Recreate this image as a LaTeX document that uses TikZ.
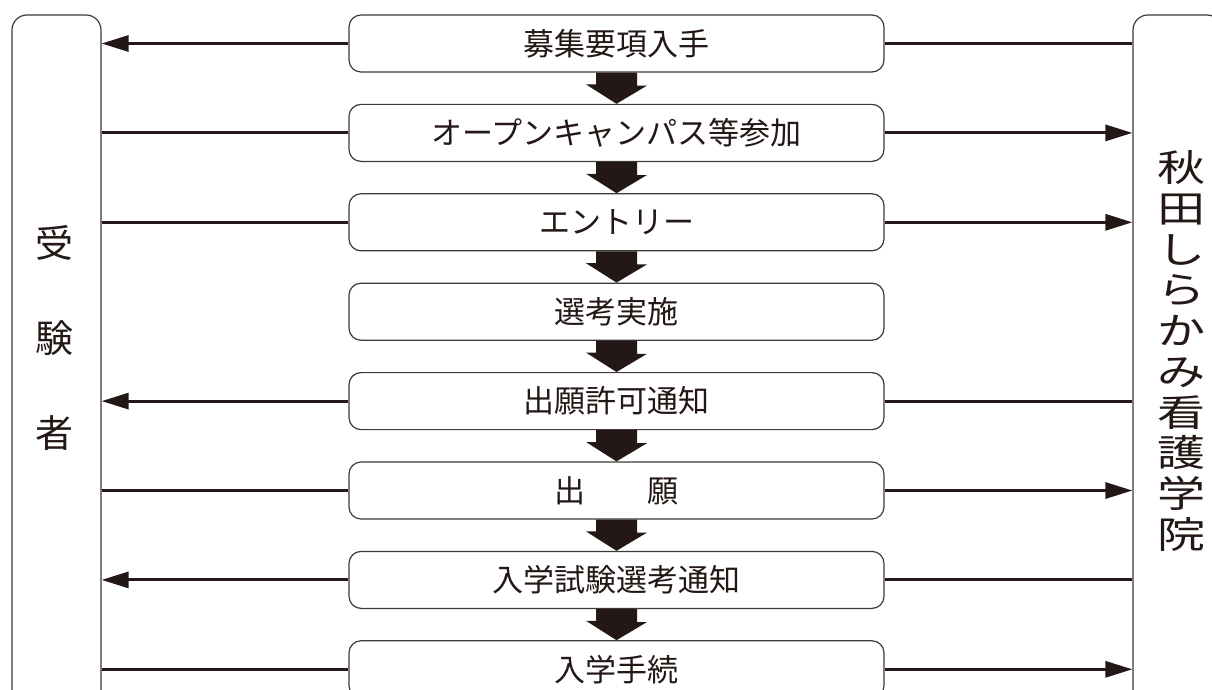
\documentclass[tikz,border=0pt]{standalone}
\usepackage{fontspec}
\setmainfont{Noto Sans CJK JP}
\newfontfamily\widecjk[FakeStretch=1.3]{Noto Sans CJK JP}
\usepackage{tikz}
\usetikzlibrary{positioning,calc,arrows.meta}
\definecolor{ink}{HTML}{231815}
\definecolor{frame}{HTML}{3E3A39}

\newcommand{\blockarrow}[2]{%
  \fill[ink] ($(#1.south)+(-20.5,0)$) -- ++(41,0) -- ++(0,13) -- ++(10,0) -- (#2.north)
    -- ++(-30.5,-19.4) -- ++(10,0) -- cycle;}

\begin{document}
\begin{tikzpicture}[
  x=1pt, y=-1pt,
  stepbox/.style={draw=frame, line width=1.2pt, rounded corners=12pt, minimum width=535pt, minimum height=57pt,
      inner sep=0pt, fill=white, text=ink, font=\fontsize{31}{31}\selectfont},
  sidebox/.style={draw=frame, line width=1.2pt, rounded corners=15pt, minimum width=89pt, minimum height=740pt, inner sep=0pt},
  flow/.style={draw=ink, line width=3pt},
  flowtip/.style={flow, -{Triangle[length=27pt,width=16pt]}},
]
  \useasboundingbox (0,0) rectangle (1212,690);
  \clip (0,0) rectangle (1212,690);

  % the two parties
  \node (examinee)[sidebox] at (56.5,385) {};
  \node (school)[sidebox] at (1177.5,385) {};
  \node (examinee-text)[align=center, text=ink, font=\fontsize{38}{95}\selectfont] at (54,338) {受\\験\\者};
  \node (school-text)[align=center, text=ink, font=\widecjk\fontsize{37}{40.7}\selectfont] at (1182,351) {秋\\田\\し\\ら\\か\\み\\看\\護\\学\\院};

  % steps
  \node (s1)[stepbox] at (616.5,43.5) {募集要項入手};
  \node (s2)[stepbox] at (616.5,132.9) {オープンキャンパス等参加};
  \node (s3)[stepbox] at (616.5,222.3) {エントリー};
  \node (s4)[stepbox] at (616.5,311.7) {選考実施};
  \node (s5)[stepbox] at (616.5,401.1) {出願許可通知};
  \node (s6)[stepbox] at (616.5,490.5) {出　　願};
  \node (s7)[stepbox] at (616.5,579.9) {入学試験選考通知};
  \node (s8)[stepbox] at (616.5,669.3) {入学手続};

  \blockarrow{s1}{s2}
  \blockarrow{s2}{s3}
  \blockarrow{s3}{s4}
  \blockarrow{s4}{s5}
  \blockarrow{s5}{s6}
  \blockarrow{s6}{s7}
  \blockarrow{s7}{s8}

  % school -> examinee
  \draw[flow] (school.west |- s1.east) -- (s1.east);
  \draw[flowtip] (s1.west) -- (examinee.east |- s1.west);
  \draw[flow] (school.west |- s5.east) -- (s5.east);
  \draw[flowtip] (s5.west) -- (examinee.east |- s5.west);
  \draw[flow] (school.west |- s7.east) -- (s7.east);
  \draw[flowtip] (s7.west) -- (examinee.east |- s7.west);

  % examinee -> school
  \draw[flow] (examinee.east |- s2.west) -- (s2.west);
  \draw[flowtip] (s2.east) -- (school.west |- s2.east);
  \draw[flow] (examinee.east |- s3.west) -- (s3.west);
  \draw[flowtip] (s3.east) -- (school.west |- s3.east);
  \draw[flow] (examinee.east |- s6.west) -- (s6.west);
  \draw[flowtip] (s6.east) -- (school.west |- s6.east);
  \draw[flow] (examinee.east |- s8.west) -- (s8.west);
  \draw[flowtip] (s8.east) -- (school.west |- s8.east);
\end{tikzpicture}
\end{document}
